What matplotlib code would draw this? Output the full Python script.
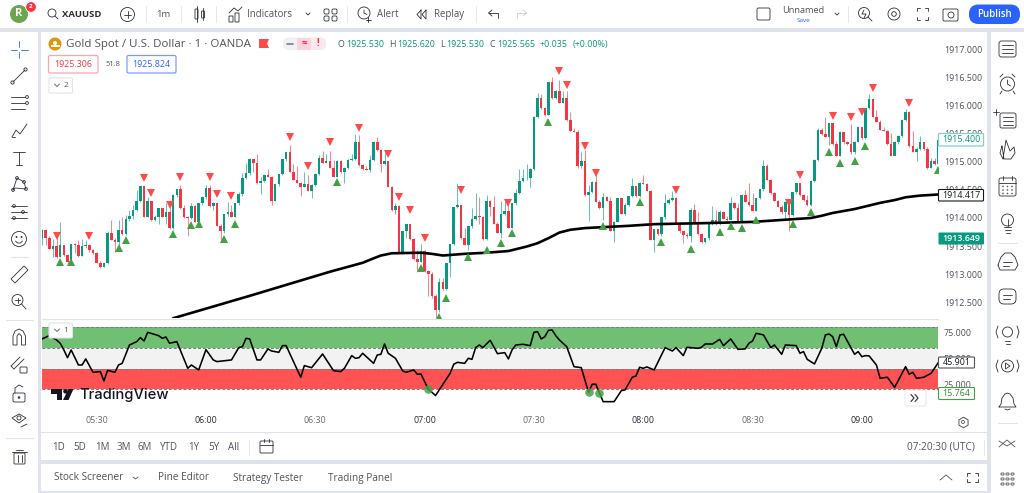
import matplotlib
matplotlib.use("Agg")
import matplotlib.pyplot as plt
from matplotlib.patches import FancyBboxPatch, Rectangle, Circle, Polygon

# ---------- data ----------
first_open = 1913.64
closes = [1913.79,1913.64,1913.45,1913.50,1913.31,1913.52,1913.34,1913.22,1913.54,1913.51,1913.32,1913.50,1913.52,1913.42,1913.37,1913.20,1913.13,1913.19,1913.74,1913.61,
1913.58,1913.79,1913.71,1913.98,1914.04,1914.15,1914.31,1914.57,1914.02,1914.30,1913.96,1914.01,1914.17,1914.02,1914.10,1913.82,1914.41,1914.51,1914.17,1914.01,
1914.00,1914.22,1913.93,1914.26,1914.37,1914.53,1914.21,1914.27,1913.86,1913.76,1914.07,1914.11,1914.02,1914.26,1914.42,1914.72,1914.80,1915.05,1914.98,1914.62,
1914.66,1914.77,1914.74,1914.31,1914.60,1914.78,1915.05,1915.17,1914.83,1914.68,1914.63,1914.56,1914.61,1914.49,1914.59,1914.79,1915.08,1914.99,1915.01,1914.90,
1914.74,1915.02,1914.82,1914.90,1915.04,1915.05,1915.36,1914.95,1914.87,1914.86,1915.04,1915.35,1915.21,1914.96,1915.01,1914.56,1914.14,1914.21,1913.40,1913.76,
1913.89,1913.63,1913.26,1913.22,1913.41,1913.05,1913.00,1912.60,1912.36,1912.85,1912.73,1913.19,1913.53,1914.19,1914.23,1913.64,1913.52,1913.85,1913.98,1914.04,
1914.01,1913.62,1914.30,1914.20,1913.90,1913.74,1914.08,1914.13,1913.83,1914.26,1914.44,1914.66,1914.71,1914.72,1914.88,1915.81,1916.15,1915.96,1915.84,1916.42,
1916.14,1916.27,1916.06,1916.15,1915.75,1915.56,1915.54,1914.92,1915.01,1914.41,1914.47,1914.65,1914.29,1914.17,1914.38,1914.31,1913.77,1913.93,1914.35,1914.08,
1914.23,1914.39,1914.57,1914.39,1914.63,1914.61,1914.49,1913.61,1913.80,1913.71,1914.01,1914.27,1914.33,1914.36,1913.90,1913.76,1913.70,1913.67,1914.15,1913.90,
1913.71,1913.58,1913.64,1913.90,1913.96,1913.89,1914.11,1913.99,1913.96,1914.27,1914.17,1913.93,1914.41,1914.29,1914.23,1914.13,1914.35,1914.51,1914.92,1914.68,
1914.44,1914.31,1914.20,1914.10,1914.29,1914.05,1914.46,1914.62,1914.41,1914.32,1914.23,1914.66,1915.04,1915.58,1915.50,1915.45,1915.69,1915.32,1915.11,1915.54,
1915.35,1915.32,1915.17,1915.36,1915.63,1915.42,1915.96,1916.13,1915.81,1915.72,1915.58,1915.56,1915.32,1915.11,1915.36,1915.47,1915.75,1915.90,1915.29,1915.18,
1915.24,1915.35,1915.23,1914.89,1915.01,1914.96,1915.39]
highs = [1913.80,1913.80,1913.67,1913.62,1913.73,1913.92,1913.52,1913.36,1913.54,1913.55,1913.60,1913.62,1913.61,1913.54,1913.44,1913.40,1913.24,1913.20,1913.76,1913.96,
1913.64,1913.96,1914.01,1914.05,1914.14,1914.23,1914.50,1914.57,1914.58,1914.38,1914.30,1914.05,1914.18,1914.18,1914.26,1914.20,1914.43,1914.52,1914.59,1914.23,
1914.04,1914.27,1914.23,1914.27,1914.39,1914.59,1914.59,1914.29,1914.26,1913.89,1914.08,1914.29,1914.24,1914.27,1914.47,1914.81,1914.98,1915.07,1915.06,1915.14,
1914.74,1914.78,1914.87,1914.75,1914.61,1914.79,1915.06,1915.18,1915.30,1914.96,1914.93,1914.65,1914.83,1914.77,1914.60,1914.80,1915.12,1915.20,1915.14,1915.20,
1915.04,1915.03,1915.04,1914.91,1915.05,1915.14,1915.50,1915.48,1914.97,1914.93,1915.12,1915.38,1915.45,1915.24,1915.18,1915.02,1914.58,1914.26,1914.23,1913.77,
1913.90,1913.90,1913.65,1913.43,1913.54,1913.42,1913.08,1913.04,1912.64,1912.92,1912.92,1913.20,1913.54,1914.20,1914.63,1914.24,1913.82,1913.86,1914.17,1914.44,
1914.38,1914.04,1914.41,1914.32,1914.39,1913.93,1914.31,1914.31,1914.32,1914.27,1914.51,1914.87,1914.87,1914.96,1914.89,1915.82,1916.24,1916.21,1915.98,1916.43,
1916.52,1916.29,1916.46,1916.26,1916.26,1915.90,1915.60,1915.57,1915.18,1915.21,1914.59,1914.66,1914.86,1914.32,1914.44,1914.39,1914.38,1913.95,1914.36,1914.36,
1914.27,1914.40,1914.71,1914.58,1914.64,1914.77,1914.63,1914.50,1913.81,1913.81,1914.02,1914.43,1914.35,1914.49,1914.38,1913.92,1913.77,1913.73,1914.17,1914.25,
1914.11,1913.74,1913.65,1913.92,1914.21,1914.14,1914.14,1914.12,1914.04,1914.37,1914.29,1914.27,1914.42,1914.50,1914.63,1914.44,1914.36,1914.52,1915.04,1914.96,
1914.70,1914.46,1914.33,1914.23,1914.30,1914.30,1914.47,1914.63,1914.63,1914.43,1914.41,1914.67,1915.05,1915.60,1915.60,1915.80,1915.70,1915.69,1915.38,1915.55,
1915.48,1915.38,1915.68,1915.38,1915.64,1915.63,1915.97,1916.21,1916.14,1915.93,1915.75,1915.63,1915.58,1915.51,1915.38,1915.48,1915.76,1915.94,1915.91,1915.56,
1915.26,1915.46,1915.36,1915.26,1915.08,1915.08,1915.40]
lows = [1913.52,1913.52,1913.45,1913.30,1913.28,1913.31,1913.33,1913.18,1913.21,1913.37,1913.31,1913.32,1913.46,1913.40,1913.35,1913.19,1913.11,1913.12,1913.17,1913.60,
1913.40,1913.52,1913.70,1913.70,1913.95,1913.99,1914.13,1914.28,1914.01,1914.01,1913.95,1913.95,1913.89,1914.01,1913.90,1913.80,1913.80,1914.38,1914.16,1914.00,
1913.68,1913.98,1913.92,1914.01,1914.24,1914.34,1914.20,1914.14,1913.85,1913.61,1913.74,1914.04,1914.01,1914.01,1914.24,1914.40,1914.70,1914.77,1914.83,1914.61,
1914.43,1914.64,1914.73,1914.23,1914.30,1914.58,1914.76,1915.02,1914.82,1914.67,1914.62,1914.39,1914.55,1914.48,1914.36,1914.58,1914.76,1914.98,1914.98,1914.89,
1914.73,1914.74,1914.80,1914.62,1914.88,1915.02,1915.04,1914.93,1914.86,1914.85,1914.83,1915.01,1915.20,1914.83,1914.95,1914.55,1914.13,1914.08,1913.39,1913.39,
1913.64,1913.61,1913.25,1913.04,1913.21,1913.04,1912.60,1912.58,1912.21,1912.33,1912.72,1912.71,1912.95,1913.51,1914.18,1913.63,1913.51,1913.43,1913.82,1913.96,
1913.90,1913.61,1913.60,1914.04,1913.89,1913.73,1913.64,1914.06,1913.82,1913.83,1914.24,1914.43,1914.64,1914.68,1914.55,1914.86,1915.79,1915.95,1915.83,1915.84,
1916.13,1916.13,1916.05,1916.05,1915.74,1915.55,1915.53,1914.90,1914.90,1914.40,1913.95,1914.45,1914.28,1914.16,1913.96,1914.30,1913.76,1913.58,1913.92,1914.07,
1914.05,1914.22,1914.37,1914.38,1914.38,1914.60,1914.48,1913.60,1913.40,1913.70,1913.68,1913.98,1914.25,1914.31,1913.89,1913.74,1913.56,1913.65,1913.58,1913.89,
1913.70,1913.56,1913.55,1913.60,1913.88,1913.88,1913.88,1913.98,1913.95,1913.98,1914.16,1913.92,1913.92,1914.28,1914.22,1914.12,1914.13,1914.34,1914.49,1914.67,
1914.43,1914.30,1914.19,1914.08,1913.99,1913.77,1914.04,1914.43,1914.40,1914.31,1914.22,1914.22,1914.64,1915.02,1915.49,1915.44,1915.30,1915.31,1915.10,1915.10,
1915.33,1915.31,1915.15,1915.15,1915.35,1915.41,1915.41,1915.95,1915.80,1915.71,1915.57,1915.55,1915.31,1915.10,1915.14,1915.33,1915.44,1915.73,1915.27,1915.17,
1915.01,1915.21,1915.21,1914.88,1914.90,1914.95,1914.93]

ema_bars = [36,57,79,88,91,93,96,104,107,110,116,122,128,133,136,139,142,145,149,152,161,168,183,195,211,214,217,223,230,234,237,241,246]
ema_vals = [1912.21,1912.61,1913.04,1913.20,1913.28,1913.33,1913.37,1913.38,1913.36,1913.33,1913.36,1913.38,1913.41,1913.49,1913.55,1913.64,1913.74,1913.79,1913.82,1913.83,1913.86,1913.89,1913.91,1913.93,1914.00,1914.04,1914.09,1914.16,1914.27,1914.32,1914.37,1914.40,1914.42]

sell_bars = [4,13,28,30,35,38,46,48,52,68,73,79,87,95,98,101,105,115,128,142,144,149,152,174,205,208,217,222,225,228,238]
sell_vals = [1913.68,1913.68,1914.72,1914.45,1914.24,1914.74,1914.74,1914.42,1914.39,1915.45,1914.92,1915.35,1915.61,1915.14,1914.37,1914.15,1913.65,1914.50,1914.27,1916.62,1916.38,1915.28,1914.80,1914.50,1914.26,1914.77,1915.83,1915.81,1915.89,1916.33,1916.05]
buy_bars = [5,8,21,23,36,41,43,50,53,81,104,109,111,117,122,126,129,139,154,164,170,178,186,189,192,196,206,211,216,219,223,226,246]
buy_vals = [1913.21,1913.22,1913.47,1913.61,1913.71,1913.88,1913.89,1913.63,1913.90,1914.64,1913.10,1912.24,1912.57,1913.30,1913.42,1913.56,1913.73,1915.72,1913.85,1914.28,1913.58,1913.45,1913.75,1913.86,1913.83,1913.96,1913.90,1914.10,1915.18,1914.99,1915.02,1915.29,1914.85]

rsi_bars = [0,2,4,5,6,7,8,10,11,12,14,16,17,18,20,21,22,24,26,27,28,29,32,33,34,35,37,40,41,43,45,47,48,52,54,55,56,57,59,60,62,63,65,66,67,71,72,74,77,80,82,83,85,86,87,88,91,92,93,94,95,97,99,100,102,103,104,106,108,112,113,114,116,117,118,119,120,121,123,125,127,128,
129,130,132,134,135,136,137,138,139,140,141,142,144,146,148,150,151,152,154,157,159,160,162,163,164,165,166,168,171,173,174,176,177,180,181,182,184,186,187,189,191,193,194,195,196,198,200,201,203,204,207,208,209,210,212,214,215,216,217,218,219,220,223,224,225,226,227,229,230,232,234,237,238,239,240,242,244,246]
rsi_vals = [68.8,72.0,67.8,64.6,58.1,50.6,58.1,43.5,43.5,49.4,36.4,37.1,28.0,38.3,36.4,43.5,45.1,62.9,66.2,70.1,66.8,75.2,72.0,69.4,70.7,64.6,66.2,40.3,43.5,38.7,58.4,48.4,46.8,48.4,60.4,61.3,69.4,68.8,48.4,48.4,59.1,57.1,55.8,62.3,62.3,31.6,42.9,40.9,54.2,38.0,37.1,40.3,52.6,50.0,50.6,54.9,45.1,53.2,53.9,63.9,54.9,50.0,37.7,36.4,38.7,34.5,34.8,20.2,13.8,35.4,44.2,46.1,45.1,50.0,49.0,60.4,62.9,60.4,67.5,54.5,55.5,49.4,
58.1,62.9,63.6,62.3,75.2,75.9,68.8,71.0,77.2,77.5,72.0,67.8,61.3,41.9,40.9,17.0,24.8,24.8,7.9,7.9,18.6,19.3,31.6,32.8,41.3,40.3,41.6,38.7,60.4,57.1,60.4,52.6,60.7,59.7,60.7,63.9,63.9,68.4,62.3,68.8,58.7,59.1,64.6,66.8,74.3,72.7,60.4,62.9,53.9,62.9,62.3,54.9,56.5,49.0,44.5,59.7,72.7,73.6,71.0,61.3,72.7,73.3,53.9,56.5,51.6,52.6,52.3,43.5,30.6,31.6,21.8,41.9,34.5,36.4,30.6,31.6,35.4,45.9]
dot_bars = [106,150,153]
dot_vals = [20.2,17.0,16.0]

band_levels = [80,60,40,20]
price_ticks = [1912.5,1913.0,1913.5,1914.0,1914.5,1915.0,1915.5,1916.0,1916.5,1917.0]
rsi_ticks = [25,50,75]
time_labels = ["05:30","06:00","06:30","07:00","07:30","08:00","08:30","09:00"]
time_bars = [15,45,75,105,135,165,195,225]

# ---------- figure ----------
FONT = "Open Sans"
plt.rcParams["font.family"] = [FONT, "DejaVu Sans"]
W, H = 1024, 493
fig = plt.figure(figsize=(W/100, H/100), dpi=100, facecolor="#E0E3EB")
UP, DOWN = "#089981", "#F23645"
INK = "#2A2E39"; GREY = "#50535E"

def box(x0, y0, x1, y1):
    return [x0/W, 1-y1/H, (x1-x0)/W, (y1-y0)/H]

# panel layer
bg = fig.add_axes([0,0,1,1], zorder=0); bg.set_xlim(0,W); bg.set_ylim(H,0); bg.axis("off")
for (x0,y0,x1,y1) in [(0,0,W,28),(0,32,38,H),(41,32,987,432),(41,433,987,460),(41,464,987,491),(991,32,W,H)]:
    bg.add_patch(Rectangle((x0,y0),x1-x0,y1-y0,fc="white",ec="none"))

# price pane
ax = fig.add_axes(box(42,33,938,318), zorder=1, facecolor="white")
xmin, xmax = 0.0, 245.9
y2p = lambda y: 1915+(162-y)/56
ax.set_xlim(xmin,xmax); ax.set_ylim(y2p(318),y2p(33))
opens = [first_open]+closes[:-1]
for i,(o,c,h,l) in enumerate(zip(opens,closes,highs,lows)):
    col = UP if c>=o else DOWN
    ax.vlines(i,l,h,color=col,lw=0.75,alpha=0.6,zorder=2)
    ax.bar(i,max(abs(c-o),0.006),bottom=min(o,c),width=0.7,color=col,lw=0,zorder=3)
ax.plot(ema_bars,ema_vals,color="black",lw=1.9,zorder=4,solid_capstyle="round",solid_joinstyle="round")
ax.plot(sell_bars,sell_vals,ls="none",marker="v",ms=5.2,color="#FF4A4A",mew=0,zorder=5)
ax.plot(buy_bars,buy_vals,ls="none",marker="^",ms=5.2,color="#43A047",mew=0,zorder=5)
ax.yaxis.tick_right(); ax.set_yticks(price_ticks); ax.set_yticklabels([f"{v:.3f}" for v in price_ticks])
ax.set_xticks([])
ax.tick_params(axis="y",length=0,pad=4.2,labelsize=6.4,labelcolor=GREY)
for s in ax.spines.values(): s.set_visible(False)

# oscillator pane
os_ = fig.add_axes(box(42,319,938,405), zorder=1, facecolor="white")
y2v = lambda y: 50+(358.3-y)/1.03
os_.set_xlim(xmin,xmax); os_.set_ylim(y2v(405),y2v(319))
os_.axhspan(band_levels[1],band_levels[0],color="#4CAF50",alpha=0.8,lw=0)
os_.axhspan(band_levels[2],band_levels[1],color="#F2F2F2",lw=0)
os_.axhspan(band_levels[3],band_levels[2],color="#FF5252",lw=0)
for lv in band_levels:
    os_.axhline(lv,color="#787B86",lw=0.7,ls=(0,(3,2)))
os_.plot(rsi_bars,rsi_vals,color="black",lw=1.15,zorder=4)
os_.scatter(dot_bars,dot_vals,s=38,color="#43A047",alpha=0.85,lw=0,zorder=5)
os_.yaxis.tick_right(); os_.set_yticks(rsi_ticks); os_.set_yticklabels([f"{v:.3f}" for v in rsi_ticks])
os_.set_xticks(time_bars); os_.set_xticklabels(time_labels)
os_.tick_params(axis="y",length=0,pad=4.2,labelsize=6.4,labelcolor=GREY)
os_.tick_params(axis="x",length=0,pad=8.2,labelsize=6.4)
for t,lab in zip(os_.get_xticklabels(),time_labels):
    t.set_color(INK if lab.endswith(":00") else "#6A6D78")
for s in os_.spines.values(): s.set_visible(False)

# interface layer
ui = fig.add_axes([0,0,1,1], zorder=5); ui.set_xlim(0,W); ui.set_ylim(H,0); ui.axis("off"); ui.patch.set_alpha(0)
def T(x,y,s,size=6.6,color=INK,ha="left",va="center",**k):
    ui.text(x,y,s,fontsize=size,color=color,ha=ha,va=va,**k)
def L(xs,ys,c=INK,lw=0.6,**k):
    ui.plot(xs,ys,color=c,lw=lw,solid_capstyle="round",**k)
def R(x0,y0,x1,y1,fc="none",ec=INK,lw=0.6,r=1.5):
    ui.add_patch(FancyBboxPatch((x0,y0),x1-x0,y1-y0,boxstyle=f"round,pad=0,rounding_size={r}",fc=fc,ec=ec,lw=lw))
def C(x,y,r,fc="none",ec=INK,lw=0.6,**k):
    ui.add_patch(Circle((x,y),r,fc=fc,ec=ec,lw=lw,**k))

# separators
L([42,938],[318.5,318.5],"#E0E3EB",0.8)
L([41,987],[432,432],"#E0E3EB",0.8)

# top bar
C(19,14,9,fc="#6BA54E",ec="none"); T(19,14,"R",8,"white",ha="center",weight="bold")
C(31,7,5.3,fc="#F23645",ec="white",lw=0.6); T(31,7,"2",4.5,"white",ha="center",weight="bold")
C(52,13,4); L([55,58],[16,19]); T(62,14.5,"XAUUSD",6.8,weight="bold")
C(127.5,14.5,7); L([124,131],[14.5,14.5]); L([127.5,127.5],[11,18])
L([146,146],[6,22],"#E0E3EB"); T(163.5,14.5,"1m",6.8,GREY,ha="center"); L([181,181],[6,22],"#E0E3EB")
R(195,9,198,19,r=.6); L([196.5,196.5],[6,22]); R(201.5,11,204.5,18,r=.6); L([203,203],[8,20])
L([216,216],[6,22],"#E0E3EB")
R(229,16,233,22,r=.2); R(235,13,239,22,r=.2); L([229,234,238,242],[13,8,11,7])
T(247,14.5,"Indicators",6.9,GREY)
L([306,308,310],[13,15,13]);
for (a,b) in [(324,9),(332,9),(324,16),(332,16)]: R(a,b,a+5,b+5)
L([347,347],[6,22],"#E0E3EB")
C(364,13,6); L([364,364,367],[10,13,14.5]); L([368,368],[17,22]); L([365.5,370.5],[19.5,19.5])
T(377,14.5,"Alert",6.9,GREY)
L([421,417,421,421],[10,14.5,19,10]); L([426,422,426,426],[10,14.5,19,10])
T(434,14.5,"Replay",6.9,GREY)
L([476,476],[6,22],"#E0E3EB")
L([489,498,498],[13,13,18]); L([492,488.5,492],[10,13,16])
L([526,517,517],[13,13,18],"#C8CBD2"); L([523,526.5,523],[10,13,16],"#C8CBD2")
R(757,8,770,20,r=1.5)
T(803,10.5,"Unnamed",6.6,GREY,ha="center"); T(803,20,"Save",4.6,"#2962FF",ha="center")
L([835,837,839],[13,15,13]); L([848,848],[6,22],"#E0E3EB")
C(864,13,5.5); L([868,872],[17,21]); L([864,862,866,864],[10,14,14,18])
C(894,14,6); C(894,14,2.3)
for xs,ys in [([917,917,920],[11,8,8]),([925,928,928],[8,8,11]),([917,917,920],[17,20,20]),([925,928,928],[20,20,17])]: L(xs,ys)
R(943,9,958,21,r=1.5); C(951,15,3)
R(969,4.5,1020,24,fc="#2962FF",ec="none",r=9.5); T(994.5,14.5,"Publish",7,"white",ha="center",weight="semibold")

# legend row
C(55,44,6.5,fc="#D9960F",ec="none"); ui.add_patch(Rectangle((50.5,44.5),9,2,fc="white",ec="none")); C(55,43,2,fc="white",ec="none")
T(65.5,44,"Gold Spot / U.S. Dollar · 1 · OANDA",8.25,GREY)
ui.add_patch(Polygon([(259,39),(269,39),(267,43.5),(269,48),(259,48)],fc="#FF4A4A",ec="none"))
R(283,37.5,326,50,fc="#F0F1F4",ec="none",r=6); ui.add_patch(Rectangle((297,37.5),14,12.5,fc="#FBD3DC",ec="none")); R(311,37.5,326,50,fc="#FCE8EC",ec="none",r=6)
L([287,293],[44,44],"#787B86",1.2); T(304,43.5,"≈",7,"#E91E63",ha="center",weight="bold"); T(318,43.5,"!",7,"#F23645",ha="center",weight="bold")
for x,s in [(338,"O"),(389,"H"),(440,"L"),(489.5,"C")]: T(x,44.5,s,6.4,GREY)
for x,s in [(346,"1925.530"),(397,"1925.620"),(446.5,"1925.530"),(497,"1925.565"),(540,"+0.035"),(573,"(+0.00%)")]: T(x,44.5,s,6.4,UP)
R(48.5,55.5,98,73,fc="white",ec="#F7A7AE",lw=0.9); T(73,64.5,"1925.306",6.4,DOWN,ha="center")
T(105,64.5,"51.8",5.4,GREY)
R(127,55.5,176,73,fc="white",ec="#7C9BFF",lw=0.9); T(151.5,64.5,"1925.824",6.4,"#2962FF",ha="center")
for y,n in [(78,"2"),(323,"1")]:
    R(49,y,72.5,y+15,fc="white",ec="#E0E3EB",lw=0.8); L([54.5,57,59.5],[y+6,y+8.5,y+6],GREY); T(66,y+7.8,n,6,GREY,ha="center")

# price tags
R(938.5,133.5,983.5,146,fc="white",ec="#86CFC2",lw=0.9,r=1); T(961,140,"1915.400",6.4,UP,ha="center")
R(938.5,189.5,983.5,201,fc="white",ec="#131722",lw=0.8,r=1); T(961,195.5,"1914.417",6.4,"#131722",ha="center")
R(938.5,232.5,984,244.5,fc=UP,ec="none",r=1); T(961,238.5,"1913.649",6.4,"white",ha="center",weight="semibold")
R(938.5,357,974.5,368,fc="white",ec="#50535E",lw=0.8,r=1); T(956.5,362.5,"45.901",6.4,"#131722",ha="center")
R(938.5,387.5,974.5,399.5,fc="white",ec="#43A047",lw=0.8,r=1); T(956.5,393.5,"15.764",6.4,"#2E8B33",ha="center")

# watermark
ui.add_patch(Polygon([(51,389),(62,389),(62,400),(57,400),(57,393.5),(51,393.5)],fc="#131722",ec="none"))
C(65.5,391.3,2.3,fc="#131722",ec="none")
ui.add_patch(Polygon([(68.5,389),(73.5,389),(68.5,400),(63,400)],fc="#131722",ec="none"))
T(79,395,"TradingView",10.6,"#131722",family="Inter",weight="medium")

# go-to-realtime button and gear
R(905,390,926,406,fc="white",ec="#E8E9ED",lw=0.8,r=2)
L([911,914,911],[394.5,398,401.5],INK,.8); L([915,918,915],[394.5,398,401.5],INK,.8)
ui.plot([963],[422],marker="h",ms=7.6,mfc="none",mec=GREY,mew=.7); C(963,422,1.5,ec=GREY)

# range bar
for x,s in [(52.5,"1D"),(73,"5D"),(95,"1M"),(116.5,"3M"),(138,"6M"),(160,"YTD"),(188,"1Y"),(208.5,"5Y"),(228.5,"All")]:
    T(x,447,s,7,GREY)
L([249,249],[440,455],"#E0E3EB")
R(260,441,273,453,r=1); L([260,273],[445,445]); L([264,264],[439,442]); L([269,269],[439,442])
T(975,447,"07:20:30 (UTC)",7.3,GREY,ha="right"); L([984,984],[440,455],"#E0E3EB")

# bottom bar
for x,s in [(54,"Stock Screener"),(158,"Pine Editor"),(233,"Strategy Tester"),(328,"Trading Panel")]:
    T(x,478,s,7.2,GREY)
L([133,135.5,138],[477,479,477],GREY)
L([940,946,952],[480,475,480],GREY)
for xs,ys in [([967,967,970],[476,473,473]),([975,978,978],[473,473,476]),([967,967,970],[479,482,482]),([975,978,978],[482,482,479])]: L(xs,ys)

# left toolbar
L([19,19],[41,47],"#2962FF"); L([19,19],[52,58],"#2962FF"); L([11,17],[50,50],"#2962FF"); L([21,28],[50,50],"#2962FF")
L([13,25],[82,70]); C(12.5,82.5,1.6,fc="white"); C(25.5,69.5,1.6,fc="white")
for y in [97,103,109]: L([11,25],[y,y])
C(27,97,1.4,fc="white"); C(27,103,1.4,fc="white")
L([12,16,20,27],[137,130,134,124]); L([12,15],[137,137])
L([13,25],[152,152]); L([19,19],[152,165]); L([16,22],[165,165])
L([13,17,24,26,15,13],[190,178,182,189,188,190]);
for a,b in [(13,190),(17,178),(24,182),(26,189)]: C(a,b,1.4,fc="white")
for y in [206,212,218]: L([11,27],[y,y]);
C(14,206,1.4,fc="white"); C(23,212,1.4,fc="white"); C(14,218,1.4,fc="white")
C(19,239,7.5); C(16.5,237,.5,fc=INK); C(21.5,237,.5,fc=INK); L([15.5,17.5,20.5,22.5],[241,243,243,241])
L([11,28],[257,257],"#E0E3EB",.8)
ui.add_patch(Polygon([(11,279),(24,266),(28,270),(15,283)],fc="none",ec=INK,lw=.6))
C(17.5,300,5.5); L([21.5,26],[304,309]); L([15,20],[300,300]); L([17.5,17.5],[297.5,302.5])
L([6,33],[320,320],"#E0E3EB",.8)
ui.add_patch(Polygon([(13,345),(13,336),(15,331),(19,329),(23,331),(25.5,336),(25.5,345),(21.5,345),(21.5,336),(19,333.5),(17,336),(17,345)],fc="white",ec=INK,lw=.6))
L([11,20],[366,357]); L([14,24],[369,359]); L([11,14],[366,369]); R(20,367,27,373,r=.8)
R(13,393,25,402,r=1.5); L([15,15,19,23],[393,388,385,387]); C(19,397.5,.8,fc=INK)
ui.add_patch(Polygon([(12,418),(19,414),(26,418),(19,423)],fc="none",ec=INK,lw=.6)); C(19,418,2); L([21,27],[427,424])
L([6,33],[438,438],"#E0E3EB",.8)
R(14,453,25,464,r=1); L([12,27],[452,452]); L([16,23],[450,450]); L([17.5,17.5],[455,462]); L([21.5,21.5],[455,462])

# right toolbar
X = 1007.5
R(999,41,1016,57,r=2.5)
for y in [45,49,53]: L([1002,1013],[y,y])
C(X,84,7); L([X,X,X+3],[80,84,86]); L([1000,1003],[77,74]); L([1015,1012],[77,74]); L([1002,1000],[91,94]); L([1013,1015],[91,94])
R(1000,113,1016,128,r=2)
for y in [117,121,125]: L([1003,1013],[y,y])
L([996,996],[109,115]); L([993,999],[112,112])
L([1002,1000,1003,1006,1010,1014,1015,1011,1004,1002],[146,153,159,140,151,147,153,159,159,146])
R(999,178,1016,196,r=2); L([999,1016],[183,183]); L([1003,1003],[176,180]); L([1012,1012],[176,180])
for a in [1003,1007.5,1012]:
    for b in [186.5,190,193.5]: C(a,b,.8,fc=GREY,ec="none")
C(X,220,6); L([1004,1011],[227,227]); L([1004.5,1010.5],[230,230]); L([1005.5,1009.5],[233,233]); L([X,X],[219,226])
L([998,1017],[243,243],"#E0E3EB",.8)
L([998,1001,1005,1011,1015,1018,1015,1000,998],[265,257,253,253,257,265,270,270,265]); L([1003,1012],[262,262]); L([1003,1009],[266,266])
R(999,289,1016,304,r=5); L([1003,1012],[295,295]); L([1003,1010],[299,299])
C(X,332,5); L([1005,1010],[341,341]); L([1005.5,1009.5],[344,344]); L([998,996,998],[326,332,338]); L([1017,1019,1017],[326,332,338])
C(X,366,6); ui.add_patch(Polygon([(1005.5,363),(1010,366),(1005.5,369)],fc="none",ec=INK,lw=.6)); L([998,996,998],[360,366,372]); L([1017,1019,1017],[360,366,372])
L([999,1001,1002,1005,1007.5,1010,1013,1014,1016,999],[407,404,398,394,393,394,398,404,407,407]); L([1005,1007.5,1010],[409,410,409])
L([998,1017],[423,423],"#E0E3EB",.8)
L([999,1007,1015],[447,440,447],GREY); L([999,1007,1015],[441,446,441],GREY)
for a in [1001,1006,1011]:
    for b in [473,478,483]: R(a,b,a+3,b+2,r=.5,ec=GREY)

fig.savefig("out.png",dpi=100,facecolor=fig.get_facecolor())
